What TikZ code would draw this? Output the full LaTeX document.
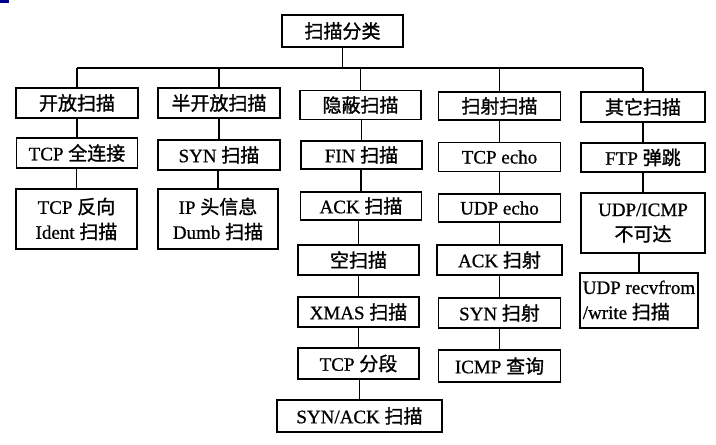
\documentclass[tikz,border=0pt]{standalone}
\usepackage{fontspec}
\setmainfont{Liberation Serif}[FakeBold=0.8]
\newfontfamily\zhfont{Noto Sans CJK SC}[FakeBold=1.2]
\newcommand\zh[1]{{\zhfont #1}}
\begin{document}
\begin{tikzpicture}[x=1pt,y=-1pt,
  box/.style={draw, line width=1.5pt, inner sep=0pt, align=center,
    font=\fontsize{19}{25}\selectfont},
  link/.style={line width=1.4pt}]
\useasboundingbox (0,0) rectangle (716,445);
\fill[blue!55!black] (0,0) rectangle (9,3);
% root
\node[box, minimum width=121pt, minimum height=32pt] (root) at (342.5,31) {\zh{扫描分类}};
% column 1
\node[box, minimum width=122pt, minimum height=30pt] (c1a) at (77,103) {\zh{开放扫描}};
\node[box, minimum width=121pt, minimum height=30pt] (c1b) at (77,153) {TCP \zh{全连接}};
\node[box, minimum width=121pt, minimum height=60pt] (c1c) at (76.5,219) {TCP \zh{反向}\\Ident \zh{扫描}};
% column 2
\node[box, minimum width=122pt, minimum height=30pt] (c2a) at (219,103) {\zh{半开放扫描}};
\node[box, minimum width=122pt, minimum height=30pt] (c2b) at (219,155) {SYN \zh{扫描}};
\node[box, minimum width=120pt, minimum height=60pt] (c2c) at (218,219) {IP \zh{头信息}\\Dumb \zh{扫描}};
% column 3
\node[box, minimum width=121pt, minimum height=29pt] (c3a) at (360.5,105) {\zh{隐蔽扫描}};
\node[box, minimum width=121pt, minimum height=28pt] (c3b) at (361.5,155) {FIN \zh{扫描}};
\node[box, minimum width=121pt, minimum height=28pt] (c3c) at (361,206) {ACK \zh{扫描}};
\node[box, minimum width=121pt, minimum height=30pt] (c3d) at (358.5,260) {\zh{空扫描}};
\node[box, minimum width=121pt, minimum height=30pt] (c3e) at (358.5,312) {XMAS \zh{扫描}};
\node[box, minimum width=121pt, minimum height=31pt] (c3f) at (358.5,363.5) {TCP \zh{分段}};
\node[box, minimum width=165pt, minimum height=32pt] (c3g) at (359.5,416) {SYN/ACK \zh{扫描}};
% column 4
\node[box, minimum width=122pt, minimum height=28pt] (c4a) at (499.5,106) {\zh{扫射扫描}};
\node[box, minimum width=122pt, minimum height=29pt] (c4b) at (499.5,157) {TCP echo};
\node[box, minimum width=122pt, minimum height=28pt] (c4c) at (499.5,208) {UDP echo};
\node[box, minimum width=125pt, minimum height=30pt] (c4d) at (499.5,260) {ACK \zh{扫射}};
\node[box, minimum width=122pt, minimum height=30pt] (c4e) at (499.5,313) {SYN \zh{扫射}};
\node[box, minimum width=122pt, minimum height=32pt] (c4f) at (499.5,366) {ICMP \zh{查询}};
% column 5
\node[box, minimum width=124pt, minimum height=30pt] (c5a) at (643,107) {\zh{其它扫描}};
\node[box, minimum width=124pt, minimum height=29pt] (c5b) at (643,157.5) {FTP \zh{弹跳}};
\node[box, minimum width=124pt, minimum height=60pt] (c5c) at (643,223) {UDP/ICMP\\\zh{不可达}};
\node[box, minimum width=118pt, minimum height=55pt, align=left] (c5d) at (639,300.5) {UDP recvfrom\\/write \zh{扫描}};
% bus
\coordinate (bus) at (342.5,68);
\draw[link] (root.south) -- (root.south |- bus);
\draw[link] (c1a.north |- bus) -- (c5a.north |- bus);
\foreach \n in {c1a,c2a,c3a,c4a,c5a}
  \draw[link] (\n.north) -- (\n.north |- bus);
% column links
\foreach \a/\b in {c1a/c1b,c1b/c1c,c2a/c2b,c2b/c2c,c3a/c3b,c3b/c3c,c3c/c3d,c3d/c3e,c3e/c3f,c3f/c3g,c4a/c4b,c4b/c4c,c4c/c4d,c4d/c4e,c4e/c4f,c5a/c5b,c5b/c5c,c5c/c5d}
  \draw[link] (\a.south) -- (\a.south -| \b.north) -- (\b.north);
\end{tikzpicture}
\end{document}
